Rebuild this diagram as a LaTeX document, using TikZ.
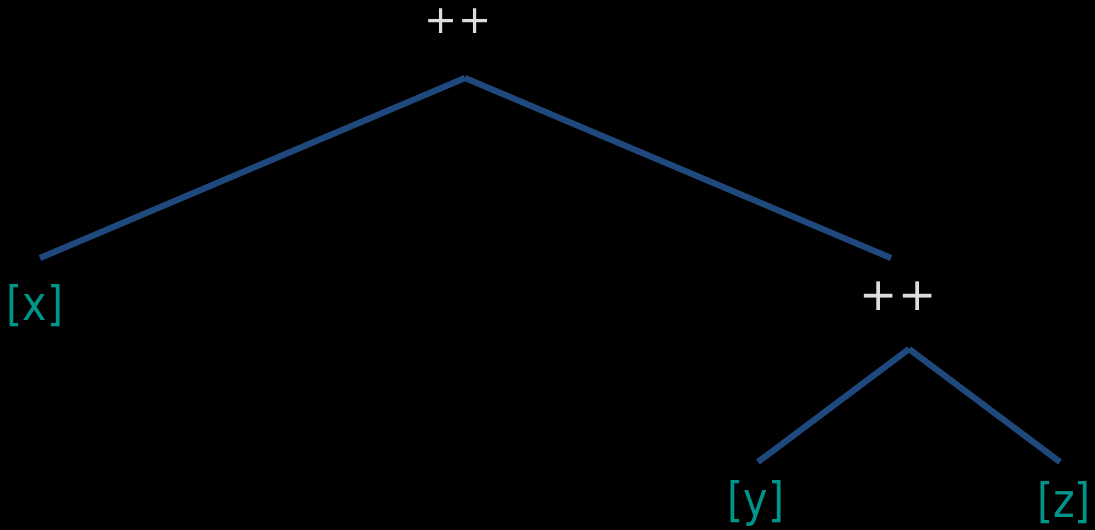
\documentclass[tikz,border=0pt]{standalone}
\usepackage{fontspec}
\setmainfont{DejaVu Sans}
\newfontfamily\leaffont[FakeStretch=0.87]{DejaVu Sans}
\usetikzlibrary{positioning}
\definecolor{Edge}{HTML}{1F497D}
\definecolor{Leaf}{HTML}{00958A}
\definecolor{Op}{HTML}{DDDDDD}
\begin{document}
\begin{tikzpicture}[x=0.02cm, y=-0.02cm, inner sep=0pt, op/.style={text=Op, font=\fontsize{26}{30}\selectfont}, leaf/.style={text=Leaf, font=\leaffont\fontsize{27}{32}\selectfont}, edge/.style={line width=3.5pt, color=Edge}]
\fill[black] (0,0) rectangle (1095,530);
\useasboundingbox (0,0) rectangle (1095,530);
\node[op,font=\fontsize{22.5}{27}\selectfont] (root) at (458,21) {++};
\node[op] (inner) at (898,296) {++};
\node[leaf] (x) at (35,306) {[x]};
\node[leaf] (y) at (756,503) {[y]};
\node[leaf] (z) at (1064,503) {[z]};
\coordinate (rootv) at (465,78);
\coordinate (innerv) at (909,349);
\coordinate (xt) at (40,258);
\coordinate (innert) at (891,258);
\coordinate (yt) at (758,462);
\coordinate (zt) at (1060,462);
\foreach \a/\b in {rootv/xt,rootv/innert,innerv/yt,innerv/zt}{\draw[edge] (\a)--(\b);}
\end{tikzpicture}
\end{document}
